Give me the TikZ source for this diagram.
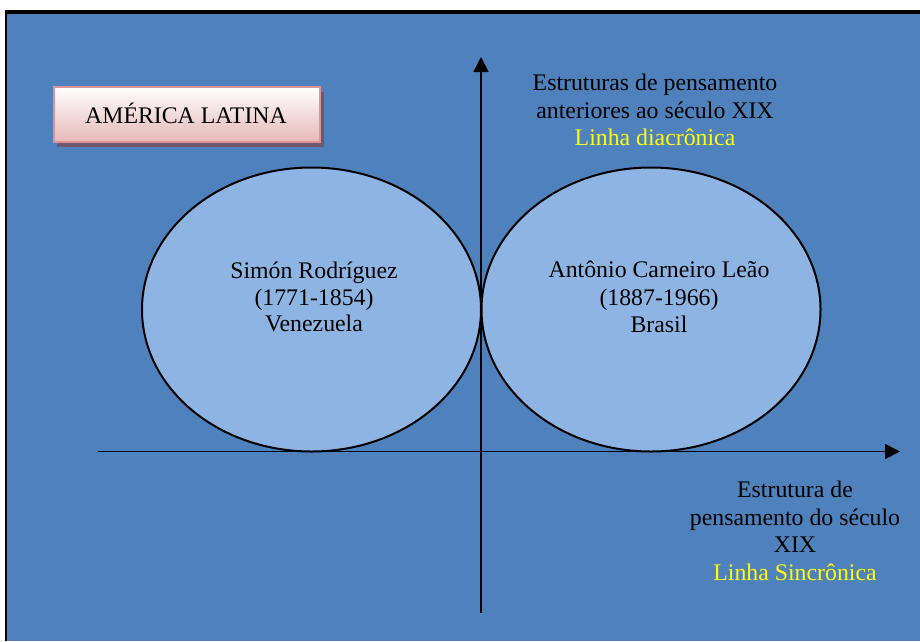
\documentclass[tikz,border=0pt]{standalone}
\usepackage{fontspec}
\setmainfont{Liberation Serif}
\usetikzlibrary{arrows.meta,shadows}
\definecolor{bgblue}{HTML}{4F81BD}
\definecolor{ellblue}{HTML}{8EB4E3}
\definecolor{pinkb}{HTML}{D99694}
\definecolor{pinkf}{HTML}{E6B9B8}
\definecolor{shadowc}{RGB}{112,86,110}
\definecolor{yel}{HTML}{FFFF00}
\tikzset{
  lbl/.style={align=center, inner sep=0pt, font=\fontsize{23.8}{27.6}\selectfont},
  ell/.style={ellipse, draw=black, line width=2pt, fill=ellblue, minimum width=339pt, minimum height=284pt, inner sep=0pt},
  axis/.style={line width=1.6pt, -{Triangle[length=15pt,width=15pt]}},
}
\usetikzlibrary{shapes.geometric}
\begin{document}
\begin{tikzpicture}[x=1pt,y=-1pt]
\useasboundingbox (0,0) rectangle (920,641);
\fill[white] (0,0) rectangle (920,641);
\fill[black] (5,10) rectangle (920,641);
\fill[bgblue] (7,14) rectangle (920,641);
% title box
\fill[shadowc] (57,92) rectangle (324,147);
\node[draw=pinkb, line width=2pt, top color=white, bottom color=pinkf, minimum width=266pt, minimum height=55pt, inner sep=0pt] (title) at (186.5,114) {};
\node[lbl] (titletxt) at (186,113) {AMÉRICA LATINA};
% ellipses
\node[ell] (left) at (311.5,309.5) {};
\node[ell] (right) at (651,309.5) {};
\node[lbl, font=\fontsize{23.8}{26.5}\selectfont] (lt) at (314,297) {Simón Rodríguez\\(1771-1854)\\Venezuela};
\node[lbl, font=\fontsize{23.8}{27.2}\selectfont] (rt) at (659,297) {Antônio Carneiro Leão\\(1887-1966)\\Brasil};
% axes
\coordinate (vb) at (481,613);
\coordinate (vt) at (481,57);
\coordinate (hl) at (98,451.5);
\coordinate (hr) at (900,451.5);
\draw[axis] (vb) -- (vt);
\draw[axis] (hl) -- (hr);
% labels
\node[lbl] (top) at (655,110) {Estruturas de pensamento\\anteriores ao século XIX\\\textcolor{yel}{Linha diacrônica}};
\node[lbl] (bot) at (795,531) {Estrutura de\\pensamento do século\\XIX\\\textcolor{yel}{Linha Sincrônica}};
\end{tikzpicture}
\end{document}
